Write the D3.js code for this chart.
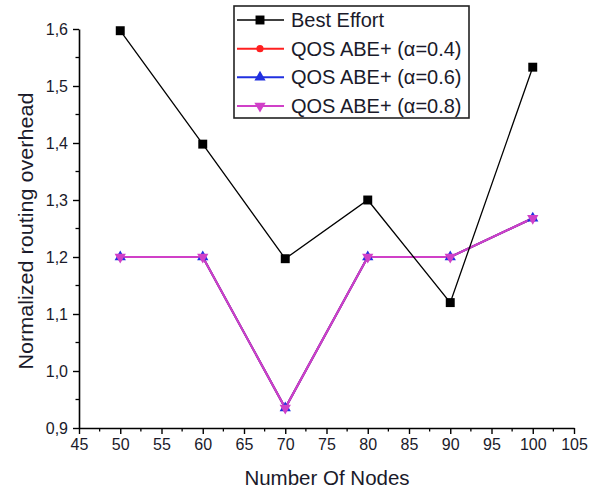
<!DOCTYPE html>
<html><head><meta charset="utf-8">
<script src="https://cdn.jsdelivr.net/npm/d3@7/dist/d3.min.js"></script>
<style>body{margin:0;background:#fff}svg{display:block}</style>
</head><body>
<script>
const nodes = [50, 60, 70, 80, 90, 100];
const bestEffort = [1.597, 1.398, 1.197, 1.300, 1.120, 1.533];
const qos04 = [1.200, 1.200, 0.935, 1.200, 1.200, 1.268];
const qos06 = [1.200, 1.200, 0.935, 1.200, 1.200, 1.268];
const qos08 = [1.200, 1.200, 0.935, 1.200, 1.200, 1.268];
const seriesNames = ["Best Effort", "QOS ABE+ (\u03B1=0.4)", "QOS ABE+ (\u03B1=0.6)", "QOS ABE+ (\u03B1=0.8)"];
const xTicks = [45, 50, 55, 60, 65, 70, 75, 80, 85, 90, 95, 100, 105];
const yTicks = [0.9, 1.0, 1.1, 1.2, 1.3, 1.4, 1.5, 1.6];

const W = 600, H = 493;
const svg = d3.select("body").append("svg").attr("width", W).attr("height", H);
const font = "'Liberation Sans', Arial, sans-serif";

const x = d3.scaleLinear().domain([45, 105]).range([79, 574]);
const y = d3.scaleLinear().domain([0.9, 1.6]).range([428, 29]);

// minor ticks
const xMinor = d3.range(47.5, 105, 5);
const yMinor = d3.range(0.95, 1.6, 0.1);
svg.append("g").selectAll("line").data(xMinor).join("line")
  .attr("x1", d => x(d)).attr("x2", d => x(d)).attr("y1", 428).attr("y2", 431.5)
  .attr("stroke", "#000").attr("stroke-width", 1.3);
svg.append("g").selectAll("line").data(yMinor).join("line")
  .attr("y1", d => y(d)).attr("y2", d => y(d)).attr("x1", 79).attr("x2", 75.5)
  .attr("stroke", "#000").attr("stroke-width", 1.3);

const fmt = d => d3.format(".1f")(d).replace(".", ",");

const xAxis = svg.append("g").attr("transform", "translate(0,428)")
  .call(d3.axisBottom(x).tickValues(xTicks).tickSize(6).tickSizeOuter(0).tickPadding(5).tickFormat(d3.format("d")));
const yAxis = svg.append("g").attr("transform", "translate(79,0)")
  .call(d3.axisLeft(y).tickValues(yTicks).tickSize(6).tickSizeOuter(0).tickPadding(5).tickFormat(fmt));
[xAxis, yAxis].forEach(g => {
  g.select(".domain").attr("stroke", "#000").attr("stroke-width", 1.6);
  g.selectAll(".tick line").attr("stroke", "#000").attr("stroke-width", 1.4);
  g.selectAll("text").attr("font-family", font).attr("font-size", 16).attr("fill", "#1a1a2a");
});

// axis titles
svg.append("text").attr("x", 327).attr("y", 485).attr("text-anchor", "middle")
  .attr("font-family", font).attr("font-size", 20.5).attr("fill", "#1a1a2a").text("Number Of Nodes");
svg.append("text").attr("transform", "translate(33,231) rotate(-90)").attr("text-anchor", "middle")
  .attr("font-family", font).attr("font-size", 21).attr("fill", "#1a1a2a")
  .attr("textLength", 277).attr("lengthAdjust", "spacingAndGlyphs")
  .text("Normalized routing overhead");

const series = [
  {name: seriesNames[1], vals: qos04, color: "#ff2020", width: 2, sym: d3.symbolCircle, size: 40, rot: 0},
  {name: seriesNames[2], vals: qos06, color: "#2030e0", width: 2, sym: d3.symbolTriangle, size: 55, rot: 0},
  {name: seriesNames[3], vals: qos08, color: "#d040c8", width: 2, sym: d3.symbolTriangle, size: 55, rot: 180},
  {name: seriesNames[0], vals: bestEffort, color: "#000", width: 1.3, sym: d3.symbolSquare, size: 80, rot: 0}
];

const line = d3.line().x(d => x(d[0])).y(d => y(d[1]));
series.forEach(s => {
  const pts = nodes.map((n, i) => [n, s.vals[i]]);
  svg.append("path").attr("d", line(pts)).attr("fill", "none")
    .attr("stroke", s.color).attr("stroke-width", s.width);
});
series.forEach(s => {
  const pts = nodes.map((n, i) => [n, s.vals[i]]);
  svg.append("g").selectAll("path").data(pts).join("path")
    .attr("d", d3.symbol().type(s.sym).size(s.size))
    .attr("transform", d => `translate(${x(d[0])},${y(d[1])}) rotate(${s.rot})`)
    .attr("fill", s.color);
});

// legend
const lg = svg.append("g");
lg.append("rect").attr("x", 234).attr("y", 6).attr("width", 235).attr("height", 112)
  .attr("fill", "#fff").attr("stroke", "#222").attr("stroke-width", 1.6);
const legendOrder = [series[3], series[0], series[1], series[2]];
const ly = d3.scalePoint().domain(seriesNames).range([20, 106]);
legendOrder.forEach(s => {
  const yy = ly(s.name);
  lg.append("line").attr("x1", 237).attr("x2", 284).attr("y1", yy).attr("y2", yy)
    .attr("stroke", s.color).attr("stroke-width", s.width);
  lg.append("path").attr("d", d3.symbol().type(s.sym).size(s.size))
    .attr("transform", `translate(260,${yy}) rotate(${s.rot})`).attr("fill", s.color);
  lg.append("text").attr("x", 291).attr("y", yy + 7).attr("font-family", font)
    .attr("font-size", 20).attr("fill", "#1a1a2a").text(s.name);
});
</script>
</body></html>
